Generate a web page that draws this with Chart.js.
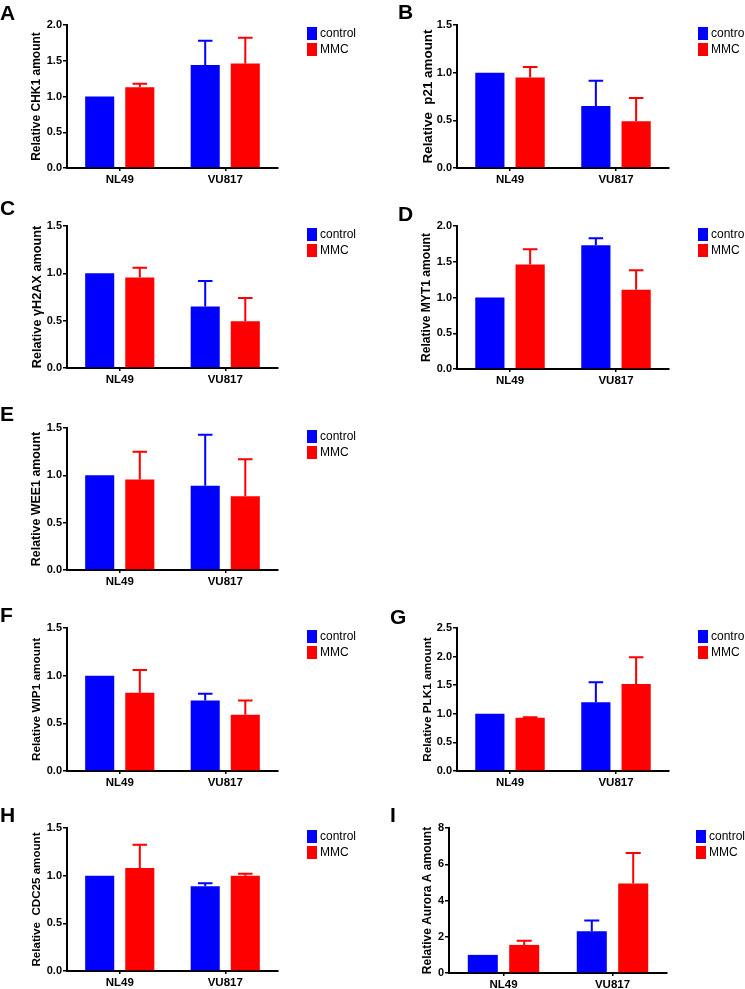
<!DOCTYPE html>
<html>
<head>
<meta charset="utf-8">
<title>Relative protein amounts</title>
<script src="https://cdn.jsdelivr.net/npm/chart.js@4.4.1/dist/chart.umd.min.js"></script>
<style>
    html, body { margin: 0; padding: 0; background: #fff; }
    #figure { position: relative; width: 745px; height: 989px; overflow: hidden; }
    #figure canvas { position: absolute; }
</style>
</head>
<body>
<div id="figure"></div>
<script>
// Data (mean and upper error per cell line)
const categories = ['NL49', 'VU817'];
const seriesNames = ['control', 'MMC'];

const chk1Control = [1.0, 1.44];
const chk1ControlErr = [0, 0.34];
const chk1Mmc = [1.13, 1.46];
const chk1MmcErr = [0.05, 0.36];

const p21Control = [1.0, 0.65];
const p21ControlErr = [0, 0.265];
const p21Mmc = [0.95, 0.49];
const p21MmcErr = [0.11, 0.245];

const h2axControl = [1.0, 0.65];
const h2axControlErr = [0, 0.27];
const h2axMmc = [0.955, 0.495];
const h2axMmcErr = [0.105, 0.245];

const myt1Control = [1.0, 1.73];
const myt1ControlErr = [0, 0.10];
const myt1Mmc = [1.46, 1.11];
const myt1MmcErr = [0.215, 0.27];

const wee1Control = [1.0, 0.89];
const wee1ControlErr = [0, 0.54];
const wee1Mmc = [0.955, 0.78];
const wee1MmcErr = [0.295, 0.39];

const wip1Control = [1.0, 0.74];
const wip1ControlErr = [0, 0.07];
const wip1Mmc = [0.82, 0.59];
const wip1MmcErr = [0.24, 0.15];

const plk1Control = [1.0, 1.2];
const plk1ControlErr = [0, 0.35];
const plk1Mmc = [0.93, 1.52];
const plk1MmcErr = [0.01, 0.47];

const cdc25Control = [1.0, 0.89];
const cdc25ControlErr = [0, 0.03];
const cdc25Mmc = [1.08, 1.0];
const cdc25MmcErr = [0.245, 0.02];

const auroraControl = [1.0, 2.3];
const auroraControlErr = [0, 0.6];
const auroraMmc = [1.55, 4.94];
const auroraMmcErr = [0.23, 1.68];

const ticks15 = [0, 0.5, 1.0, 1.5];
const ticks20 = [0, 0.5, 1.0, 1.5, 2.0];
const ticks25 = [0, 0.5, 1.0, 1.5, 2.0, 2.5];
const ticks8 = [0, 2, 4, 6, 8];

const BLUE = '#0000ff';
const RED = '#ff0000';
const FONT = "'Liberation Sans', Arial, Helvetica, sans-serif";

// Panel layout: canvas box, plot area inside the canvas, letter position
const panels = [
    { letter: 'A', title: 'Relative CHK1 amount', titleX: 37, titleSize: 12,
      control: chk1Control, controlErr: chk1ControlErr, mmc: chk1Mmc, mmcErr: chk1MmcErr,
      ticks: ticks20, decimals: 1,
      box: { x: 0, y: 0, w: 372, h: 200 }, area: { left: 67, top: 25, right: 278, bottom: 168 }, mark: { x: 0, y: 20 } },
    { letter: 'B', title: 'Relative  p21 amount', titleX: 56, titleSize: 13.4,
      control: p21Control, controlErr: p21ControlErr, mmc: p21Mmc, mmcErr: p21MmcErr,
      ticks: ticks15, decimals: 1,
      box: { x: 372, y: 0, w: 373, h: 200 }, area: { left: 85, top: 25, right: 297, bottom: 168 }, mark: { x: 26, y: 19 } },
    { letter: 'C', title: 'Relative \u03b3H2AX amount', titleX: 37.5, titleSize: 12.7,
      control: h2axControl, controlErr: h2axControlErr, mmc: h2axMmc, mmcErr: h2axMmcErr,
      ticks: ticks15, decimals: 1,
      box: { x: 0, y: 200, w: 372, h: 200 }, area: { left: 67, top: 26, right: 278, bottom: 168 }, mark: { x: 0, y: 15 } },
    { letter: 'D', title: 'Relative MYT1 amount', titleX: 55, titleSize: 12.1,
      control: myt1Control, controlErr: myt1ControlErr, mmc: myt1Mmc, mmcErr: myt1MmcErr,
      ticks: ticks20, decimals: 1,
      box: { x: 372, y: 200, w: 373, h: 200 }, area: { left: 85, top: 26, right: 297, bottom: 169 }, mark: { x: 26, y: 21 } },
    { letter: 'E', title: 'Relative WEE1 amount', titleX: 37, titleSize: 12.4,
      control: wee1Control, controlErr: wee1ControlErr, mmc: wee1Mmc, mmcErr: wee1MmcErr,
      ticks: ticks15, decimals: 1,
      box: { x: 0, y: 400, w: 372, h: 200 }, area: { left: 67, top: 28, right: 278, bottom: 170 }, mark: { x: 0, y: 21 } },
    { letter: 'F', title: 'Relative WIP1 amount', titleX: 37, titleSize: 11.8,
      control: wip1Control, controlErr: wip1ControlErr, mmc: wip1Mmc, mmcErr: wip1MmcErr,
      ticks: ticks15, decimals: 1,
      box: { x: 0, y: 600, w: 372, h: 200 }, area: { left: 67, top: 28, right: 278, bottom: 171 }, mark: { x: 0, y: 22 } },
    { letter: 'G', title: 'Relative PLK1 amount', titleX: 55.5, titleSize: 11.8,
      control: plk1Control, controlErr: plk1ControlErr, mmc: plk1Mmc, mmcErr: plk1MmcErr,
      ticks: ticks25, decimals: 1,
      box: { x: 372, y: 600, w: 373, h: 200 }, area: { left: 85, top: 28, right: 297, bottom: 171 }, mark: { x: 18, y: 24 } },
    { letter: 'H', title: 'Relative  CDC25 amount', titleX: 37, titleSize: 11.6,
      control: cdc25Control, controlErr: cdc25ControlErr, mmc: cdc25Mmc, mmcErr: cdc25MmcErr,
      ticks: ticks15, decimals: 1,
      box: { x: 0, y: 800, w: 372, h: 189 }, area: { left: 67, top: 28, right: 278, bottom: 171 }, mark: { x: 0, y: 22 } },
    { letter: 'I', title: 'Relative Aurora A amount', titleX: 56, titleSize: 12,
      control: auroraControl, controlErr: auroraControlErr, mmc: auroraMmc, mmcErr: auroraMmcErr,
      ticks: ticks8, decimals: 0,
      box: { x: 372, y: 800, w: 373, h: 189 }, area: { left: 77, top: 28, right: 295, bottom: 173 }, mark: { x: 18, y: 22 } },
];

// Upper error bars with a cap, drawn in the bar colour
const errorBars = {
    id: 'errorBars',
    afterDatasetsDraw(chart) {
        const ctx = chart.ctx;
        const yScale = chart.scales.y;
        chart.data.datasets.forEach((ds, i) => {
            const meta = chart.getDatasetMeta(i);
            meta.data.forEach((bar, j) => {
                const err = ds.errors[j];
                if (!err) return;
                const yTop = yScale.getPixelForValue(ds.data[j] + err);
                const half = bar.width / 4;
                ctx.save();
                ctx.strokeStyle = ds.backgroundColor;
                ctx.lineWidth = 2;
                ctx.beginPath();
                ctx.moveTo(bar.x, bar.y);
                ctx.lineTo(bar.x, yTop);
                ctx.moveTo(bar.x - half, yTop);
                ctx.lineTo(bar.x + half, yTop);
                ctx.stroke();
                ctx.restore();
            });
        });
    }
};

// Panel letter and the legend to the right of the plot
const panelDecor = {
    id: 'panelDecor',
    afterDraw(chart, args, opts) {
        const ctx = chart.ctx;
        const area = chart.chartArea;
        ctx.save();
        ctx.fillStyle = '#000';
        ctx.font = 'bold 21px ' + FONT;
        ctx.textBaseline = 'alphabetic';
        ctx.textAlign = 'left';
        ctx.fillText(opts.letter, opts.mark.x, opts.mark.y);

        const bx = area.right + 29;
        chart.data.datasets.forEach((ds, i) => {
            const by = area.top + 2 + i * 16;
            ctx.fillStyle = ds.backgroundColor;
            ctx.fillRect(bx, by, 10, 13);
            ctx.fillStyle = '#000';
            ctx.font = '12px ' + FONT;
            ctx.textBaseline = 'middle';
            ctx.fillText(ds.label, bx + 13, by + 7);
        });
        ctx.restore();
    }
};

function buildPanel(panel) {
    const figure = document.getElementById('figure');
    const canvas = document.createElement('canvas');
    canvas.width = panel.box.w;
    canvas.height = panel.box.h;
    canvas.style.left = panel.box.x + 'px';
    canvas.style.top = panel.box.y + 'px';
    figure.appendChild(canvas);

    const area = panel.area;
    const ticks = panel.ticks;
    const titleLine = panel.titleSize * 1.2;

    return new Chart(canvas, {
        type: 'bar',
        data: {
            labels: categories,
            datasets: [
                { label: seriesNames[0], data: panel.control, errors: panel.controlErr, backgroundColor: BLUE },
                { label: seriesNames[1], data: panel.mmc, errors: panel.mmcErr, backgroundColor: RED },
            ],
        },
        plugins: [errorBars, panelDecor],
        options: {
            responsive: false,
            animation: false,
            devicePixelRatio: 1,
            categoryPercentage: 0.76,
            barPercentage: 0.725,
            layout: {
                padding: { left: 0, top: area.top, right: panel.box.w - area.right, bottom: 0 },
            },
            plugins: {
                legend: { display: false },
                tooltip: { enabled: false },
                panelDecor: { letter: panel.letter, mark: panel.mark },
            },
            scales: {
                x: {
                    grid: { drawOnChartArea: false, offset: false, color: '#000', lineWidth: 1.5, tickLength: 3 },
                    border: { color: '#000', width: 2 },
                    ticks: {
                        color: '#000',
                        padding: 2,
                        maxRotation: 0,
                        font: { family: FONT, size: 11.5, weight: 'bold' },
                    },
                    afterFit(scale) { scale.height = panel.box.h - area.bottom; },
                },
                y: {
                    min: ticks[0],
                    max: ticks[ticks.length - 1],
                    afterBuildTicks(scale) { scale.ticks = ticks.map(v => ({ value: v })); },
                    grid: { drawOnChartArea: false, color: '#000', lineWidth: 1.5, tickLength: 4 },
                    border: { color: '#000', width: 2 },
                    ticks: {
                        color: '#000',
                        padding: 1,
                        font: { family: FONT, size: 11, weight: 'bold' },
                        callback: (v) => Number(v).toFixed(panel.decimals),
                    },
                    title: {
                        display: true,
                        text: panel.title,
                        color: '#000',
                        font: { family: FONT, size: panel.titleSize, weight: 'bold' },
                        padding: { top: panel.titleX - titleLine / 2, bottom: 0 },
                    },
                    afterFit(scale) { scale.width = area.left; },
                },
            },
        },
    });
}

document.addEventListener('DOMContentLoaded', () => {
    panels.forEach(buildPanel);
});
</script>
</body>
</html>
